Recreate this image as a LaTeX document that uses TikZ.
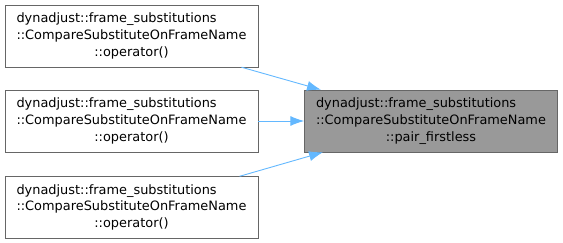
\documentclass[tikz,border=0pt]{standalone}
\usepackage{fontspec}
\setmainfont{DejaVu Sans}
\usetikzlibrary{arrows.meta}

\definecolor{edgeblue}{HTML}{63B8FF}
\newcommand{\framename}[1]{\begin{tabular}{@{}l@{}}dynadjust::frame\_substitutions\\::CompareSubstituteOnFrameName\\\multicolumn{1}{@{}c@{}}{#1}\end{tabular}}

\begin{document}
\begin{tikzpicture}[x=1pt,y=-1pt,
		fn/.style={draw=black!60,fill=white,minimum width=253pt,minimum height=62pt,inner sep=0pt,font=\fontsize{12.9}{16.8}\selectfont},
		call/.style={draw=edgeblue,line width=0.9pt,-{Latex[length=14pt,width=10pt]}}]

				\useasboundingbox (0,0) rectangle (563,243);

				\node[fn] (caller1) at (131.5,36) {\framename{::operator()}};
				\node[fn] (caller2) at (131.5,121) {\framename{::operator()}};
				\node[fn] (caller3) at (131.5,207.5) {\framename{::operator()}};

				% the called function
				\node[fn,fill=black!40] (firstless) at (431,121) {\framename{::pair\_firstless}};

				\draw[call] (caller1) -- (firstless);
				\draw[call] (caller2) -- (firstless);
				\draw[call] (caller3) -- (firstless);
			\end{tikzpicture}
\end{document}
